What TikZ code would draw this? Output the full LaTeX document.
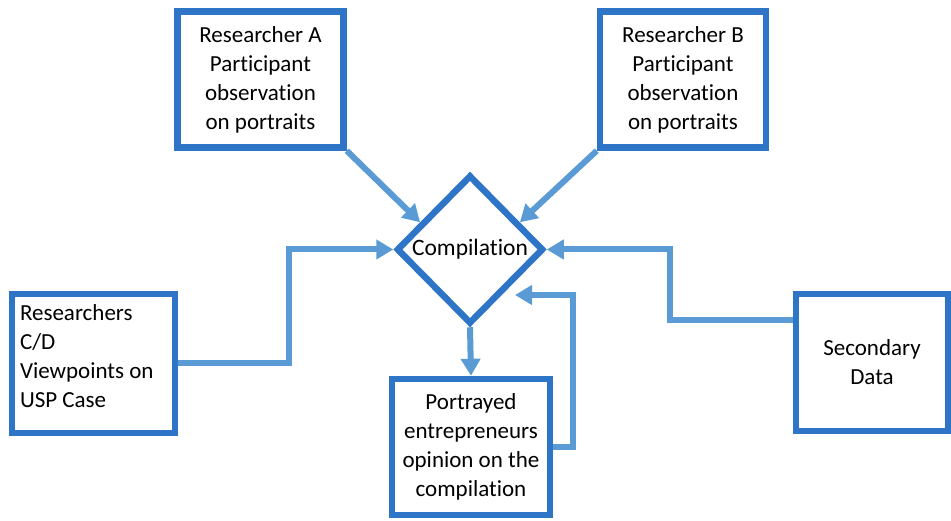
\documentclass[tikz,border=0pt]{standalone}
\usepackage{fontspec}
\setmainfont[Ligatures=NoCommon]{Carlito}
\usetikzlibrary{arrows.meta,shapes.geometric,calc}
\definecolor{boxblue}{RGB}{46,117,200}
\definecolor{linkblue}{RGB}{91,155,213}
\begin{document}
\begin{tikzpicture}[
  x=1pt,y=1pt,
  >={Triangle[length=17pt,width=19pt]},
  box/.style={draw=boxblue,line width=6.5pt,fill=white,align=center,inner sep=4pt,
    font=\fontsize{23}{29}\selectfont},
  decision/.style={draw=boxblue,line width=6.5pt,fill=white,diamond,inner sep=0pt,
    minimum width=147pt,minimum height=149pt,font=\fontsize{23.5}{29}\selectfont},
  link/.style={->,draw=linkblue,line width=6pt}
]
  \useasboundingbox (0,0) rectangle (951,520);

  \node[box,minimum width=166pt,minimum height=136pt] (resA) at (260.5,440.5)
    {Researcher A\\Participant\\observation\\on portraits};
  \node[box,minimum width=166pt,minimum height=136pt] (resB) at (683,440.5)
    {Researcher B\\Participant\\observation\\on portraits};
  \node[decision] (cmp) at (470,270.5) {Compilation};
  \node[box,align=flush left,inner xsep=8pt,inner ysep=4pt,text width=147pt,
    minimum height=139pt,text depth=101pt] (resCD) at (93.5,156.5)
    {Researchers\\C/D\\Viewpoints on\\USP Case};
  \node[box,minimum width=158pt,minimum height=136pt] (opin) at (471,73)
    {Portrayed\\entrepreneurs\\opinion on the\\compilation};
  \node[box,minimum width=152pt,minimum height=137pt] (sec) at (872,157.5)
    {Secondary\\Data};
  \coordinate (fb) at (515,225);

  \draw[link] (resA.south east) -- ($(cmp.north)!0.65!(cmp.west)$);
  \draw[link] (resB.south west) -- ($(cmp.north)!0.65!(cmp.east)$);
  \draw[link] (resCD.east) -- ++(111,0) |- (cmp.west);
  \draw[link] ($(sec.west)+(0,42.5)$) -- ++(-123,0) |- (cmp.east);
  \draw[link] (cmp.south) -- (opin.north);
  \draw[link] (opin.east) -- ++(20,0) |- (fb);
\end{tikzpicture}
\end{document}
